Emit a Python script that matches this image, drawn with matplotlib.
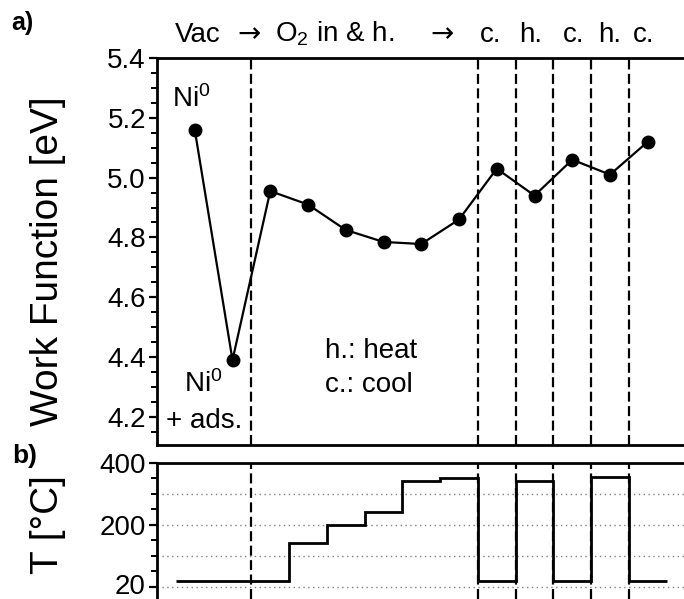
import numpy as np
import matplotlib
matplotlib.use("Agg")
import matplotlib.pyplot as plt
from matplotlib.transforms import offset_copy

plt.rcParams['font.family'] = ['Liberation Sans', 'DejaVu Sans']
plt.rcParams['mathtext.fontset'] = 'custom'
plt.rcParams['mathtext.rm'] = 'Liberation Sans'
plt.rcParams['mathtext.it'] = 'Liberation Sans:italic'
plt.rcParams['mathtext.bf'] = 'Liberation Sans:bold'

# ---- data ----
step = np.arange(13)
work_function = [5.16, 4.39, 4.955, 4.91, 4.825, 4.785, 4.778, 4.86, 5.03, 4.94, 5.06, 5.01, 5.12]
temperature = [20, 20, 20, 142, 200, 242, 342, 352, 20, 342, 20, 355, 20]
phase_boundaries = [1.5, 7.5, 8.5, 9.5, 10.5, 11.5]
header_labels = ["Vac", "\u2192", "O$_2$ in & h.", "\u2192", "c.", "h.", "c.", "h.", "c."]
header_x = [-0.53, 1.14, 2.12, 6.23, 7.55, 8.6, 9.75, 10.68, 11.6]
wf_ticks = [4.2, 4.4, 4.6, 4.8, 5.0, 5.2, 5.4]
t_ticks = [0, 200, 400]
t_ticklabels = ["20", "200", "400"]
t_grid = [0, 100, 200, 300]

W, H = 684, 599
fig = plt.figure(figsize=(W / 100, H / 100), dpi=100)

def rect(l, t, r, b):
    return [l / W, 1 - b / H, (r - l) / W, (b - t) / H]

ax1 = fig.add_axes(rect(157, 58, 685.5, 445))
ax2 = fig.add_axes(rect(157, 463, 685.5, 599))

dash = (0, (4.5, 2.0))
for ax in (ax1, ax2):
    ax.set_xlim(-1, 13)
    ax.spines['right'].set_visible(False)
    for s in ('left', 'top', 'bottom'):
        ax.spines[s].set_linewidth(2.0)
    ax.set_xticks([])
    ax.tick_params(axis='y', which='major', direction='out', length=6, width=1.6,
                   labelsize=20, pad=2)
    ax.tick_params(axis='y', which='minor', direction='out', length=4, width=1.4)
    for xb in phase_boundaries:
        ax.axvline(xb, color='black', lw=1.6, linestyle=dash, zorder=1)

# ---- top panel ----
ax1.plot(step, work_function, '-o', color='black', lw=1.6, markersize=9, zorder=3)
ax1.set_ylim(4.106, 5.4)
ax1.set_yticks(wf_ticks)
ax1.set_yticklabels([f"{v:.1f}" for v in wf_ticks])
ax1.set_yticks(np.arange(4.15, 5.4, 0.05), minor=True)
ax1.set_ylabel("Work Function [eV]", fontsize=28)
ax1.yaxis.set_label_coords(-0.172, 0.475)

xt = ax1.get_xaxis_transform()
for lab, x in zip(header_labels, header_x):
    fam = ['DejaVu Sans'] if lab == "\u2192" else ['Liberation Sans', 'DejaVu Sans']
    ax1.text(x, 1.042, lab, transform=xt, fontsize=20, ha='left', va='baseline', family=fam)

ax1.text(-0.1, 5.236, "Ni$^0$", fontsize=20, ha='center', va='baseline')
ax1.text(0.22, 4.283, "Ni$^0$", fontsize=20, ha='center', va='baseline')
ax1.text(0.24, 4.163, "+ ads.", fontsize=20, ha='center', va='baseline')
ax1.text(3.44, 4.397, "h.: heat", fontsize=20, ha='left', va='baseline')
ax1.text(3.44, 4.283, "c.: cool", fontsize=20, ha='left', va='baseline')

# ---- bottom panel ----
edges = np.arange(-0.5, len(temperature), 1.0)
ax2.stairs(temperature, edges, baseline=None, color='black', lw=2.0, zorder=3)
ax2.set_ylim(-39, 400)
ax2.spines['bottom'].set_visible(False)
ax2.set_yticks(t_ticks)
ax2.set_yticklabels(t_ticklabels)
ax2.set_yticks(np.arange(50, 400, 50), minor=True)
for g in t_grid:
    ax2.axhline(g, color='#808080', lw=1.0, linestyle=(0, (1, 2.5)), zorder=0)
ax2.set_ylabel("T [\u00b0C]", fontsize=28)
ax2.yaxis.set_label_coords(-0.172, 0.55)

fig.canvas.draw()
lbl = ax2.get_yticklabels()[0]
lbl.set_transform(offset_copy(lbl.get_transform(), fig=fig, x=0, y=2.5, units='dots'))

fig.text(11 / W, 1 - 30 / H, "a)", fontsize=18, fontweight='bold', ha='left', va='baseline')
fig.text(12 / W, 1 - 463 / H, "b)", fontsize=19, fontweight='bold', ha='left', va='baseline')

fig.savefig("out.png", dpi=100)
